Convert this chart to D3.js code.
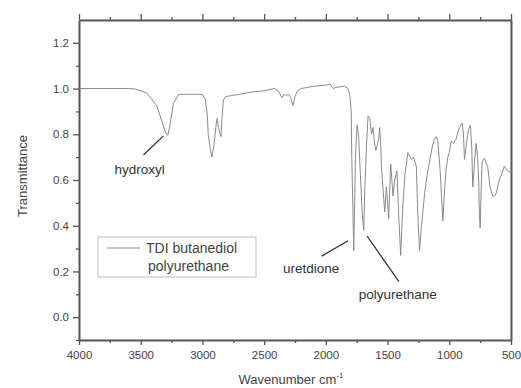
<!DOCTYPE html>
<html>
<head>
<meta charset="utf-8">
<script src="https://cdn.jsdelivr.net/npm/d3@7"></script>
<style>
  body { margin: 0; background: #fff; }
  svg { display: block; font-family: "Liberation Sans", Arial, sans-serif; }
</style>
</head>
<body>
<div id="chart"></div>
<script>
/* CONSTANTS */
const width = 521,
  height = 388,
  margin = { top: 20, right: 10, bottom: 48, left: 79 };

// spectrum: wavenumber (cm-1) and transmittance
const wavenumbers = [4000, 3800, 3600, 3545, 3450, 3370, 3330, 3300, 3281, 3260, 3235, 3192, 3100, 3000,
  2975, 2960, 2953, 2945, 2935, 2923, 2905, 2885, 2880, 2870, 2850, 2840, 2830, 2810, 2700, 2600, 2500,
  2420, 2385, 2356, 2340, 2320, 2300, 2285, 2266, 2250, 2230, 2200, 2100, 2000, 1966, 1940, 1920, 1850,
  1820, 1805, 1795, 1790, 1774, 1760, 1747, 1735, 1720, 1705, 1693, 1685, 1671, 1658, 1644, 1630, 1618,
  1605, 1595, 1585, 1572, 1564, 1555, 1550, 1535, 1523, 1510, 1500, 1491, 1475, 1456, 1442, 1424, 1410,
  1394, 1380, 1360, 1335, 1316, 1308, 1290, 1267, 1255, 1241, 1225, 1200, 1180, 1160, 1140, 1120, 1105,
  1093, 1075, 1060, 1052, 1039, 1025, 1012, 1000, 985, 965, 944, 930, 918, 896, 885, 877, 863, 845, 829,
  818, 810, 796, 783, 770, 762, 756, 750, 742, 734, 716, 700, 689, 670, 649, 635, 621, 595, 573, 554, 540,
  528, 506, 500];
const transmittance = [1.0, 1.0, 1.0, 0.998, 0.98, 0.925, 0.86, 0.81, 0.795, 0.85, 0.935, 0.975, 0.975, 0.975,
  0.95, 0.88, 0.80, 0.77, 0.73, 0.70, 0.76, 0.86, 0.87, 0.83, 0.79, 0.88, 0.95, 0.965, 0.975, 0.985, 0.99,
  1.0, 0.99, 0.96, 0.975, 0.97, 0.975, 0.96, 0.925, 0.965, 0.99, 1.0, 1.01, 1.015, 1.02, 1.0, 1.005, 1.01,
  1.0, 0.97, 0.9, 0.7, 0.29, 0.70, 0.84, 0.80, 0.62, 0.45, 0.38, 0.55, 0.75, 0.88, 0.87, 0.80, 0.83,
  0.76, 0.73, 0.75, 0.78, 0.83, 0.75, 0.66, 0.55, 0.46, 0.57, 0.50, 0.43, 0.67, 0.53, 0.60, 0.64, 0.45,
  0.27, 0.45, 0.62, 0.72, 0.70, 0.69, 0.70, 0.66, 0.45, 0.29, 0.40, 0.54, 0.62, 0.68, 0.74, 0.78, 0.79,
  0.77, 0.65, 0.50, 0.42, 0.55, 0.65, 0.70, 0.72, 0.77, 0.76, 0.78, 0.81, 0.83, 0.85, 0.80, 0.69, 0.75, 0.82, 0.84,
  0.74, 0.57, 0.67, 0.76, 0.70, 0.60, 0.45, 0.39, 0.55, 0.68, 0.695, 0.67, 0.66, 0.57, 0.53, 0.53, 0.54, 0.60, 0.63, 0.66, 0.65,
  0.64, 0.635, 0.63];

const xTicks = [4000, 3500, 3000, 2500, 2000, 1500, 1000, 500];
const yTicks = [0.0, 0.2, 0.4, 0.6, 0.8, 1.0, 1.2];

// annotation labels with their leader lines (data units)
const annoLabels = ["hydroxyl", "uretdione", "polyurethane"];
const annoTextPos = [[3712, 0.626], [2347, 0.193], [1733, 0.079]];
const annoLines = [[[3478, 0.709], [3316, 0.793]], [[2034, 0.267], [1820, 0.334]], [[1666, 0.355], [1408, 0.155]]];

const seriesName = ["TDI butanediol", "polyurethane"];

const data = wavenumbers.map((w, i) => ({ w: w, t: transmittance[i] }));

/* SVG */
const svg = d3.select("#chart")
  .append("svg")
  .attr("width", width)
  .attr("height", height);

const xScale = d3.scaleLinear()
  .domain([4000, 500])
  .range([margin.left, width - margin.right]);
const yScale = d3.scaleLinear()
  .domain([-0.1, 1.3])
  .range([height - margin.bottom, margin.top]);

const axisColor = "#555";
const textColor = "#444";

// minor ticks
const xMinor = d3.range(3750, 500, -500);
const yMinor = d3.range(-0.1, 1.3, 0.2).map(d => +d.toFixed(1));

// bottom axis
const xAxisGroup = svg.append("g")
  .attr("transform", `translate(0, ${height - margin.bottom})`)
  .call(d3.axisBottom(xScale).tickValues(xTicks).tickSize(5).tickSizeOuter(0).tickPadding(6).tickFormat(d3.format("d")));
xAxisGroup.append("g")
  .call(d3.axisBottom(xScale).tickValues(xMinor).tickSize(3).tickFormat(""))
  .call(g => g.select(".domain").remove());

// top axis
const topGroup = svg.append("g")
  .attr("transform", `translate(0, ${margin.top})`)
  .call(d3.axisTop(xScale).tickValues(xTicks).tickSize(6).tickSizeOuter(0).tickFormat(""));
topGroup.append("g")
  .call(d3.axisTop(xScale).tickValues(xMinor).tickSize(3).tickFormat(""))
  .call(g => g.select(".domain").remove());

// left axis
const yAxisGroup = svg.append("g")
  .attr("transform", `translate(${margin.left}, 0)`)
  .call(d3.axisLeft(yScale).tickValues(yTicks).tickSize(6).tickSizeOuter(0).tickPadding(4).tickFormat(d3.format(".1f")));
yAxisGroup.append("g")
  .call(d3.axisLeft(yScale).tickValues(yMinor).tickSize(3).tickFormat(""))
  .call(g => g.select(".domain").remove());

// right axis
svg.append("g")
  .attr("transform", `translate(${width - margin.right}, 0)`)
  .call(d3.axisRight(yScale).tickValues([]).tickSizeOuter(0));

svg.selectAll(".domain")
  .attr("stroke", axisColor)
  .attr("stroke-width", 2);
svg.selectAll(".tick line")
  .attr("stroke", axisColor)
  .attr("stroke-width", 1.3);
svg.selectAll(".tick text")
  .attr("fill", textColor)
  .attr("font-size", 11.5)
  .attr("font-family", "Liberation Sans, Arial, sans-serif");

// axis titles
svg.append("text")
  .attr("x", (margin.left + width - margin.right) / 2 - 4)
  .attr("y", 384)
  .attr("text-anchor", "middle")
  .attr("font-size", 13)
  .attr("fill", textColor)
  .text("Wavenumber cm")
  .append("tspan")
  .attr("dy", -6)
  .attr("font-size", 8)
  .text("-1");

svg.append("text")
  .attr("transform", `translate(27, ${(margin.top + height - margin.bottom) / 2 - 4}) rotate(-90)`)
  .attr("text-anchor", "middle")
  .attr("font-size", 13)
  .attr("fill", textColor)
  .text("Transmittance");

// spectrum line
const lineGen = d3.line()
  .x(d => xScale(d.w))
  .y(d => yScale(d.t));

svg.append("path")
  .datum(data)
  .attr("fill", "none")
  .attr("stroke", "#8a8a8a")
  .attr("stroke-width", 1)
  .attr("stroke-linejoin", "round")
  .attr("d", lineGen);

// annotations
svg.selectAll(".anno-line")
  .data(annoLines)
  .join("line")
  .attr("class", "anno-line")
  .attr("x1", d => xScale(d[0][0]))
  .attr("y1", d => yScale(d[0][1]))
  .attr("x2", d => xScale(d[1][0]))
  .attr("y2", d => yScale(d[1][1]))
  .attr("stroke", "#333")
  .attr("stroke-width", 1.3);

svg.selectAll(".anno-text")
  .data(annoLabels)
  .join("text")
  .attr("class", "anno-text")
  .attr("x", (d, i) => xScale(annoTextPos[i][0]))
  .attr("y", (d, i) => yScale(annoTextPos[i][1]))
  .attr("font-size", 13.5)
  .attr("fill", "#333")
  .text(d => d);

// legend
const legend = svg.append("g").attr("transform", "translate(98, 237)");
legend.append("rect")
  .attr("width", 158)
  .attr("height", 40)
  .attr("fill", "#fff")
  .attr("stroke", "#c8c8c8")
  .attr("stroke-width", 1.2);
legend.append("line")
  .attr("x1", 9).attr("x2", 42)
  .attr("y1", 11).attr("y2", 11)
  .attr("stroke", "#8a8a8a")
  .attr("stroke-width", 1);
legend.selectAll(".leg-text")
  .data(seriesName)
  .join("text")
  .attr("class", "leg-text")
  .attr("x", (d, i) => i === 0 ? 48 : 50)
  .attr("y", (d, i) => 16 + i * 18)
  .attr("font-size", 14)
  .attr("fill", textColor)
  .text(d => d);
</script>
</body>
</html>
